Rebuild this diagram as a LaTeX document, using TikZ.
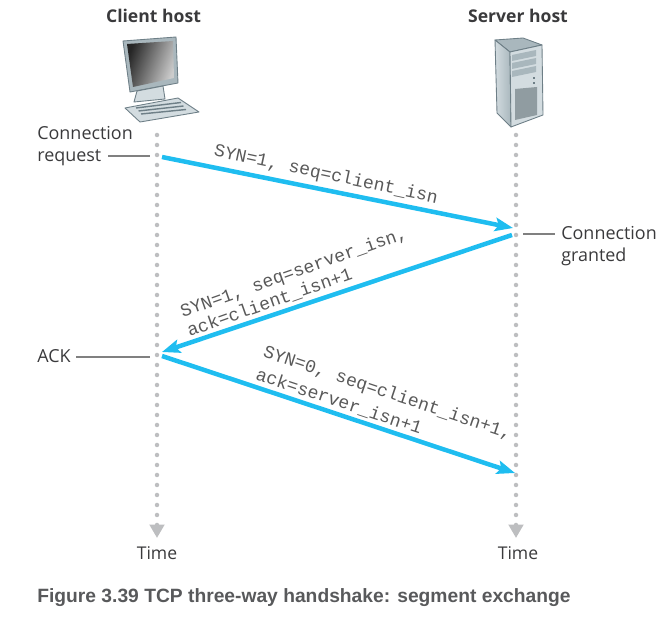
\documentclass[tikz,border=0pt]{standalone}
\usepackage{fontspec}
\setmainfont{Open Sans}
\newfontfamily\capfont{Liberation Sans}
\newfontfamily\segfont{Liberation Mono}
\usetikzlibrary{arrows.meta,positioning,calc}
\definecolor{segblue}{HTML}{1FBDF0}
\definecolor{dotgray}{HTML}{BDBEC0}
\definecolor{inkgray}{HTML}{3A3A3C}
\definecolor{capgray}{HTML}{58595B}
\definecolor{iconlight}{HTML}{D3DCE0}
\definecolor{iconmid}{HTML}{A9B7BD}
\definecolor{icondark}{HTML}{6E7F87}
\tikzset{
  hostlabel/.style={font=\fontsize{10}{12}\selectfont\bfseries,text=inkgray,inner sep=0pt},
  sidelabel/.style={font=\fontsize{10.2}{12.5}\selectfont,text=inkgray,inner sep=0pt,align=left},
  timelabel/.style={font=\fontsize{10}{12}\selectfont,text=inkgray,inner sep=0pt},
  seglabel/.style={font=\fontsize{10.3}{13.6}\selectfont\segfont,text=black!65,inner sep=0pt,align=left},
  timeline/.style={dotgray,line width=.09cm,line cap=round,dash pattern=on 0pt off .2cm,
    -{Triangle[length=.27cm,width=.29cm]}},
  segment/.style={segblue,line width=.09cm,-{Stealth[length=.36cm,width=.27cm,inset=.07cm]}},
  leader/.style={black!50,line width=.6pt},
  bodyedge/.style={draw=icondark,line width=.5pt,line join=round}
}
\begin{document}
\begin{tikzpicture}
\useasboundingbox (0,0) rectangle (13.22,12.38);

\node[hostlabel] (clienthost) at (3.07,12.06) {Client host};
\node[hostlabel] (serverhost) at (10.36,12.06) {Server host};

\coordinate (clienttop) at (3.14,9.68);
\coordinate (clientend) at (3.14,1.62);
\coordinate (servertop) at (10.32,9.68);
\coordinate (serverend) at (10.32,1.62);
\draw[timeline] (clienttop) -- (clientend);
\draw[timeline] (servertop) -- (serverend);
\node[timelabel] (clienttime) at (3.14,1.32) {Time};
\node[timelabel] (servertime) at (10.36,1.32) {Time};

\fill[bodyedge,fill=iconmid] (2.46,11.56) -- (3.52,11.64) -- (3.56,10.72) -- (2.60,10.54) -- cycle;
\shade[left color=black!85,right color=black!20,shading angle=70] (2.54,11.50) -- (3.46,11.56) -- (3.48,10.82) -- (2.66,10.64) -- cycle;
\fill[bodyedge,fill=iconlight] (2.74,10.56) -- (3.26,10.66) -- (3.30,10.40) -- (2.68,10.34) -- cycle;
\fill[bodyedge,fill=iconlight] (2.50,10.22) -- (3.56,10.42) -- (3.98,10.14) -- (2.80,9.94) -- cycle;
\foreach \k in {0,1,2}
  \draw[icondark,line width=.8pt] (2.72+.05*\k,10.22-.06*\k) -- (3.62+.05*\k,10.33-.07*\k);

\fill[bodyedge,fill=iconmid] (9.90,11.58) -- (10.46,11.62) -- (10.84,11.48) -- (10.20,11.34) -- cycle;
\shade[bodyedge,left color=iconlight,right color=iconmid] (9.90,11.58) -- (10.20,11.34) -- (10.22,9.84) -- (9.94,10.12) -- cycle;
\fill[bodyedge,fill=iconlight] (10.20,11.34) -- (10.84,11.48) -- (10.86,10.08) -- (10.22,9.84) -- cycle;
\fill[iconmid] (10.24,11.28) -- (10.72,11.38) -- (10.72,11.26) -- (10.24,11.16) -- cycle;
\fill[iconmid] (10.24,11.12) -- (10.72,11.22) -- (10.72,11.10) -- (10.24,11.00) -- cycle;
\fill[iconmid] (10.24,10.96) -- (10.72,11.06) -- (10.72,10.94) -- (10.24,10.84) -- cycle;
\fill[icondark] (10.66,10.84) rectangle (10.70,10.80);
\fill[icondark] (10.66,10.74) rectangle (10.70,10.70);
\fill[iconmid!85!black] (10.30,10.60) -- (10.74,10.64) -- (10.74,10.08) -- (10.30,9.98) -- cycle;

\coordinate (synstart) at (3.24,9.24);
\coordinate (syntip) at (10.26,7.82);
\coordinate (ackstart) at (10.24,7.68);
\coordinate (acktip) at (3.24,5.34);
\coordinate (laststart) at (3.24,5.26);
\coordinate (lasttip) at (10.30,2.92);
\draw[segment] (synstart) -- (syntip);
\draw[segment] (ackstart) -- (acktip);
\draw[segment] (laststart) -- (lasttip);

\node[seglabel,rotate=-12] (synlabel) at (6.52,8.88) {SYN=1, seq=client\_isn};
\node[seglabel,rotate=19.5] (acklabel) at (5.94,6.74) {SYN=1, seq=server\_isn,\\[-2pt] ack=client\_isn+1};
\node[seglabel,rotate=-18.5] (lastlabel) at (7.68,4.30) {SYN=0, seq=client\_isn+1,\\ack=server\_isn+1};

\node[sidelabel,anchor=west] (reqlabel) at (.74,9.46) {Connection\\request};
\coordinate (reqstart) at (2.16,9.26);
\coordinate (reqend) at (3.0,9.26);
\draw[leader] (reqstart) -- (reqend);
\node[sidelabel,anchor=west] (grantlabel) at (11.22,7.46) {Connection\\granted};
\coordinate (grantstart) at (10.46,7.70);
\coordinate (grantend) at (11.1,7.70);
\draw[leader] (grantstart) -- (grantend);
\node[sidelabel,anchor=west] (ackside) at (.74,5.26) {ACK};
\coordinate (ackstart2) at (1.52,5.24);
\coordinate (ackend) at (3.0,5.24);
\draw[leader] (ackstart2) -- (ackend);

\node[anchor=west,inner sep=0pt,text=capgray,font=\fontsize{10.95}{12}\selectfont\capfont\bfseries] (caption) at (.74,.42) {Figure 3.39 TCP three-way handshake: segment exchange};
\end{tikzpicture}
\end{document}
